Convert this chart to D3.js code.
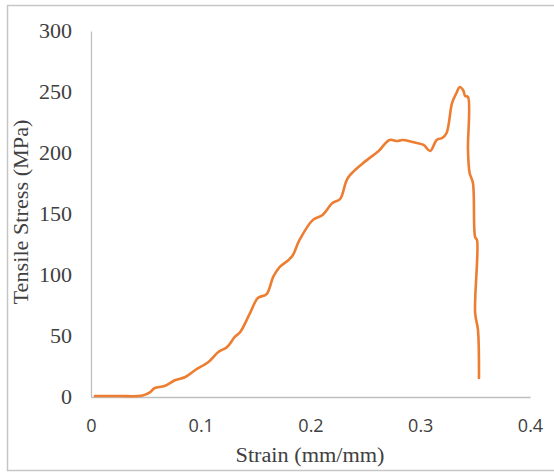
<!DOCTYPE html>
<html>
<head>
<meta charset="utf-8">
<script src="https://cdn.jsdelivr.net/npm/d3@7"></script>
<style>
  html, body { margin: 0; padding: 0; background: #fff; }
  svg { display: block; }
</style>
</head>
<body>
<svg id="chart" width="554" height="473"></svg>
<script>
// Tensile test: strain (mm/mm) vs. stress (MPa)
const strain = [0.0036, 0.026, 0.047, 0.054, 0.058, 0.067, 0.077, 0.086, 0.095, 0.107,
  0.116, 0.124, 0.131, 0.136, 0.145, 0.152, 0.160, 0.166, 0.172, 0.180,
  0.184, 0.190, 0.202, 0.211, 0.220, 0.227, 0.234, 0.248, 0.261, 0.263,
  0.272, 0.279, 0.284, 0.293, 0.303, 0.309, 0.315, 0.320, 0.324, 0.329,
  0.333, 0.336, 0.339, 0.341, 0.3435, 0.3435, 0.345, 0.348, 0.350, 0.3517,
  0.350, 0.3526, 0.3535];
const stress = [0.8, 0.8, 1.2, 4, 7.4, 9, 13.9, 16.4, 22.1, 28.7,
  36.9, 41, 49.2, 53.3, 68.9, 81.1, 84.4, 98.4, 106.6, 112.3,
  116.4, 128.7, 145, 149.2, 159, 162.3, 179.5, 191.8, 200.8, 202.5,
  210.7, 209.8, 210.7, 209, 206.6, 201.6, 210.7, 212.3, 216.4, 241,
  249.2, 254.1, 251.6, 246.7, 245.9, 202.5, 183.6, 175.4, 131.1, 128.7,
  68.9, 54.9, 15.6];
const xTicks = [0, 0.1, 0.2, 0.3, 0.4];
const yTicks = [0, 50, 100, 150, 200, 250, 300];
const xTitle = "Strain (mm/mm)";
const yTitle = "Tensile Stress (MPa)";

const svg = d3.select("#chart");
const plot = { left: 91, right: 530, top: 31, bottom: 397 };

const x = d3.scaleLinear().domain([0, 0.4]).range([plot.left, plot.right]);
const y = d3.scaleLinear().domain([0, 300]).range([plot.bottom, plot.top]);

// outer frame
svg.append("rect")
  .attr("x", 7.5).attr("y", 5.5)
  .attr("width", 560).attr("height", 465)
  .attr("fill", "none").attr("stroke", "#c6c6c6").attr("stroke-width", 1.5);

// x axis
const xAxis = svg.append("g")
  .attr("transform", `translate(0,${plot.bottom})`)
  .call(d3.axisBottom(x).tickValues(xTicks).tickSize(0).tickPadding(22)
    .tickFormat(d => d === 0 ? "0" : d3.format(".1f")(d)));
xAxis.select(".domain").attr("stroke", "#bfbfbf").attr("stroke-width", 1.3);
xAxis.selectAll("text")
  .attr("font-family", "'Open Sans', sans-serif")
  .attr("font-size", 18).attr("fill", "#404040");

// y axis (serif labels, slightly wide)
const yAxis = svg.append("g")
  .attr("transform", `translate(${plot.left},0)`)
  .call(d3.axisLeft(y).tickValues(yTicks).tickSize(0).tickPadding(17.3));
yAxis.select(".domain").attr("stroke", "#bfbfbf").attr("stroke-width", 1.3);
yAxis.selectAll("text")
  .attr("font-family", "'Liberation Serif', serif")
  .attr("font-size", 20).attr("fill", "#404040")
  .attr("transform", "scale(1.1,1)");

// axis titles
svg.append("text")
  .attr("x", 310).attr("y", 462)
  .attr("text-anchor", "middle")
  .attr("font-family", "'Liberation Serif', serif")
  .attr("font-size", 20).attr("fill", "#404040")
  .attr("textLength", 149).attr("lengthAdjust", "spacingAndGlyphs")
  .text(xTitle);

svg.append("text")
  .attr("transform", "translate(28,212) rotate(-90)")
  .attr("text-anchor", "middle")
  .attr("font-family", "'Liberation Serif', serif")
  .attr("font-size", 20).attr("fill", "#404040")
  .attr("textLength", 185).attr("lengthAdjust", "spacingAndGlyphs")
  .text(yTitle);

// stress-strain curve
const pts = strain.map((s, i) => [s, stress[i]]);
const line = d3.line()
  .x(d => x(d[0])).y(d => y(d[1]))
  .curve(d3.curveCatmullRom.alpha(0.5));

svg.append("path")
  .datum(pts)
  .attr("d", line)
  .attr("fill", "none")
  .attr("stroke", "#ED7D31")
  .attr("stroke-width", 2.6)
  .attr("stroke-linejoin", "round")
  .attr("stroke-linecap", "round");
</script>
</body>
</html>
